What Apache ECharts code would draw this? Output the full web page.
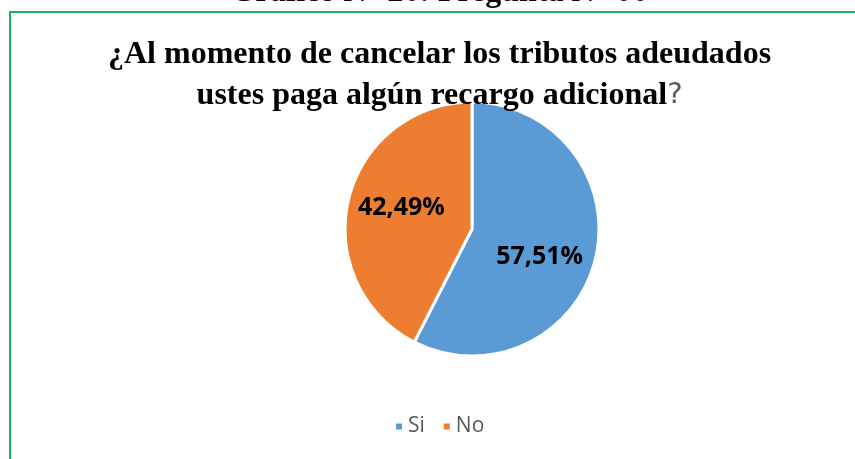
<!DOCTYPE html>
<html>
<head>
<meta charset="utf-8">
<script src="https://cdn.jsdelivr.net/npm/echarts@6/dist/echarts.min.js"></script>
<style>
html, body { margin: 0; padding: 0; background: #fff; }
#main { width: 855px; height: 459px; }
</style>
</head>
<body>
<div id="main"></div>
<script>
var categories = ['Si', 'No'];
var values = [57.51, 42.49];
var colors = ['#5B9BD5', '#ED7D31'];

var serdata = [];
for (var i = 0; i < categories.length; i++) {
    serdata.push({ name: categories[i], value: values[i] });
}
// nudge labels out a bit, like the original chart
serdata[0].label = { offset: [3, 12] };
serdata[1].label = { offset: [-6, -6] };

var option = {
    animation: false,
    color: colors,
    title: {
        text: '{t|¿Al momento de cancelar los tributos adeudados}\n{t|ustes paga algún recargo adicional}{q|?}',
        left: 103,
        top: 29,
        textAlign: 'left',
        textStyle: {
            rich: {
                t: { fontFamily: 'Liberation Serif', fontWeight: 'bold', fontSize: 32, color: '#000', lineHeight: 41, align: 'center' },
                q: { fontFamily: 'DejaVu Sans', fontWeight: 'normal', fontSize: 29, color: '#595959', lineHeight: 41 }
            }
        }
    },
    legend: {
        data: categories,
        top: 411,
        left: 389,
        icon: 'rect',
        itemWidth: 8,
        itemHeight: 8,
        itemGap: 17,
        textStyle: { fontFamily: 'Open Sans', fontSize: 21, color: '#595959' }
    },
    graphic: [
        {
            type: 'polyline',
            shape: { points: [[10, 470], [10, 12], [870, 12]] },
            style: { stroke: '#1DB15A', lineWidth: 2, fill: null }
        },
        {
            type: 'text',
            x: 439,
            y: -7,
            style: {
                text: 'Gráfico N° 26: Pregunta N° 06',
                font: 'bold 32px "Liberation Serif"',
                fill: '#000',
                align: 'center',
                verticalAlign: 'middle'
            }
        }
    ],
    series: [{
        type: 'pie',
        center: [472, 229],
        radius: 127,
        startAngle: 90,
        clockwise: true,
        data: serdata,
        itemStyle: { borderColor: '#fff', borderWidth: 3 },
        label: {
            position: 'inside',
            formatter: function (p) { return p.value.toFixed(2).replace('.', ',') + '%'; },
            fontFamily: 'Open Sans',
            fontWeight: 'bold',
            fontSize: 25,
            color: '#000'
        },
        labelLine: { show: false }
    }]
};

echarts.init(document.getElementById('main')).setOption(option);
</script>
</body>
</html>
